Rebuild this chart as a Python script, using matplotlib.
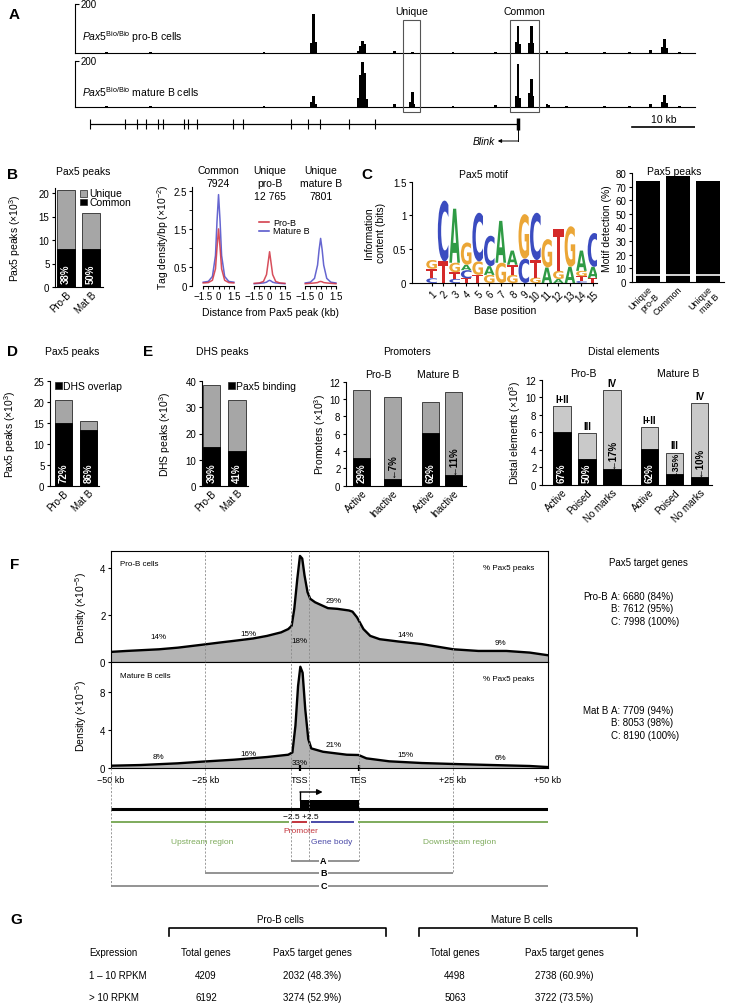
import matplotlib
matplotlib.use('Agg')
import matplotlib.pyplot as plt
from matplotlib import font_manager as fm
from matplotlib.font_manager import FontProperties
from matplotlib.textpath import TextPath
from matplotlib.patches import PathPatch, Rectangle
from matplotlib.transforms import Affine2D
from matplotlib.lines import Line2D
import numpy as np

W, H = 730, 1004

_names = {f.name for f in fm.fontManager.ttflist}
SANS = 'Liberation Sans' if 'Liberation Sans' in _names else 'DejaVu Sans'
NARROW = 'Liberation Sans Narrow' if 'Liberation Sans Narrow' in _names else SANS

plt.rcParams['font.family'] = SANS
plt.rcParams['mathtext.fontset'] = 'custom'
plt.rcParams['mathtext.rm'] = SANS
plt.rcParams['mathtext.it'] = SANS + ':italic'
plt.rcParams['mathtext.bf'] = SANS + ':bold'
plt.rcParams['axes.linewidth'] = 0.8
plt.rcParams['xtick.major.width'] = 0.8
plt.rcParams['ytick.major.width'] = 0.8

GRAY = '#a6a6a6'
LIGHT = '#c9c9c9'
RED = '#d0303f'
BLUE = '#4b4bc8'
GREEN = '#7eab5c'
PROM_RED = '#c2343c'
BODY_BLUE = '#4a4aa8'

# ---------------- data ----------------
# A: Pax5 ChIP-seq tags along the Blink locus (kb from window start)
track_kb = 98.4
proB_kb = [5.0, 12.0, 22.0, 30.0, 37.6, 37.9, 38.2, 45.0, 45.3, 45.6, 45.9, 50.7, 53.5, 60.0,
           66.7, 70.0, 70.3, 70.6, 72.1, 72.4, 72.7, 74.9, 78.0, 84.0, 88.0, 91.3, 93.2, 93.6,
           93.9, 96.0]
proB_tags = [3, 3, 2, 3, 40, 160, 45, 8, 30, 49, 35, 10, 5, 3,
             3, 45, 110, 35, 40, 110, 40, 8, 4, 5, 4, 12, 25, 57,
             20, 4]
matB_kb = [5.0, 12.0, 22.0, 30.0, 37.6, 37.9, 38.2, 45.0, 45.3, 45.6, 45.9, 46.2, 50.7, 53.2,
           53.5, 53.8, 60.0, 66.7, 70.0, 70.3, 70.6, 72.1, 72.4, 72.7, 74.9, 75.2, 78.0, 84.0,
           88.0, 91.3, 93.2, 93.6, 93.9, 96.0]
matB_tags = [3, 3, 2, 3, 20, 48, 15, 40, 140, 195, 150, 35, 15, 20,
             65, 15, 3, 8, 50, 187, 40, 60, 122, 50, 15, 8, 4, 5,
             4, 12, 20, 52, 18, 4]
blink_exons_kb = [2.4, 7.9, 9.8, 11.3, 13.2, 14.0, 17.3, 17.9, 19.4, 25.1, 26.6, 34.3, 37.0,
                  38.9, 43.5, 47.6, 70.3]
unique_box_kb = (52.1, 54.8)
common_box_kb = (69.0, 73.7)

# B
b_groups = ['Pro-B', 'Mat B']
b_total = [20.7, 15.7]
b_common = [8.0, 8.0]
b_pct = ['38%', '50%']

dens_kb = [-1.5, -1.0, -0.6, -0.3, -0.15, 0.0, 0.15, 0.3, 0.6, 1.0, 1.5]
dens_titles = ['Common\n7924', 'Unique\npro-B\n12 765', 'Unique\nmature B\n7801']
dens_proB = [[0.08, 0.09, 0.15, 0.45, 1.0, 1.5, 1.0, 0.45, 0.15, 0.09, 0.08],
             [0.07, 0.08, 0.12, 0.3, 0.6, 0.9, 0.6, 0.3, 0.12, 0.08, 0.07],
             [0.06, 0.07, 0.08, 0.09, 0.11, 0.12, 0.11, 0.09, 0.08, 0.07, 0.06]]
dens_matB = [[0.1, 0.12, 0.25, 0.8, 1.7, 2.4, 1.7, 0.8, 0.25, 0.12, 0.1],
             [0.06, 0.07, 0.08, 0.1, 0.13, 0.15, 0.13, 0.1, 0.08, 0.07, 0.06],
             [0.08, 0.1, 0.2, 0.55, 0.95, 1.25, 0.95, 0.55, 0.2, 0.1, 0.08]]

# C: Pax5 motif (letters bottom -> top, information content in bits)
motif_letters = ['CTG', 'TC', 'CTGA', 'TCAG', 'TGC', 'GAC', 'GA', 'GTA', 'CG', 'GTC',
                 'AG', 'AGT', 'AG', 'CTGA', 'TAC']
motif_bits = [[0.07, 0.14, 0.13], [0.32, 0.9], [0.06, 0.1, 0.14, 0.8], [0.07, 0.12, 0.08, 0.33],
              [0.12, 0.2, 0.72], [0.12, 0.13, 0.45], [0.3, 0.62], [0.12, 0.15, 0.21],
              [0.36, 0.66], [0.08, 0.26, 0.7], [0.23, 0.42], [0.06, 0.12, 0.62],
              [0.24, 0.6], [0.03, 0.07, 0.08, 0.3], [0.07, 0.17, 0.5]]
logo_colors = {'A': '#2f9b45', 'C': '#3b4cc0', 'G': '#eba636', 'T': '#d42a2a'}
motif_cats = ['Unique\npro-B', 'Common', 'Unique\nmat B']
motif_detect = [74, 78, 74]
motif_background = [5, 5, 5]

# D
d_groups = ['Pro-B', 'Mat B']
d_total = [20.6, 15.5]
d_dhs = [14.9, 13.3]
d_pct = ['72%', '86%']

# E
e_total = [38.6, 32.8]
e_pax5 = [15.0, 13.4]
e_pct = ['39%', '41%']

prom_labels = ['Active', 'Inactive', 'Active', 'Inactive']
prom_total = [11.1, 10.2, 9.7, 10.8]
prom_pax5 = [3.2, 0.75, 6.05, 1.2]
prom_pct = ['29%', '7%', '62%', '11%']

dist_labels = ['Active', 'Poised', 'No marks', 'Active', 'Poised', 'No marks']
dist_class = ['I+II', 'III', 'IV', 'I+II', 'III', 'IV']
dist_total = [9.0, 5.9, 10.8, 6.6, 3.7, 9.3]
dist_pax5 = [6.0, 3.0, 1.85, 4.1, 1.3, 0.93]
dist_pct = ['67%', '50%', '17%', '62%', '35%', '10%']

# F: metagene density (x: kb upstream/downstream, gene body scaled to 15.5 units)
G = 15.5
meta_proB_u = [-50.0, -45.9, -42.2, -37.3, -32.3, -26.1, -21.1, -17.4, -12.4, -8.7, -5.0, -3.1,
               -2.2, -1.5, -0.7, 0.0, 0.6, 1.2, 2.0, 2.7, 4.0, 7.4, 9.9, 13.0, 13.9, 15.1, 16.8,
               18.6, 21.1, 26.1, 32.3, 40.6, 47.2, 54.6, 60.8, 65.5]
meta_proB_d = [0.43, 0.47, 0.50, 0.54, 0.61, 0.73, 0.83, 0.90, 1.00, 1.11, 1.26, 1.40,
               1.54, 2.26, 3.54, 4.51, 4.40, 3.69, 2.97, 2.69, 2.54, 2.29, 2.26, 2.19, 2.14, 1.90,
               1.40, 1.11, 0.97, 0.87, 0.76, 0.54, 0.47, 0.47, 0.40, 0.29]
meta_matB_u = [-50.0, -42.2, -32.3, -26.1, -17.4, -8.7, -3.1, -2.0, -1.2, -0.5, 0.1, 0.7, 1.4,
               2.2, 3.0, 6.1, 12.4, 15.5, 17.6, 23.6, 32.3, 40.6, 50.9, 60.8, 65.5]
meta_matB_d = [0.24, 0.31, 0.49, 0.66, 0.87, 1.15, 1.39, 1.63, 4.42, 8.59, 10.6, 9.98, 6.16,
               3.03, 2.05, 1.70, 1.39, 1.36, 1.01, 0.70, 0.52, 0.42, 0.31, 0.21, 0.10]
region_bounds = [-50, -25, -2.5, 2.5, G, G + 25, G + 50]
proB_region_pct = ['14%', '15%', '18%', '29%', '14%', '9%']
matB_region_pct = ['8%', '16%', '33%', '21%', '15%', '6%']
proB_targets = ['A: 6680 (84%)', 'B: 7612 (95%)', 'C: 7998 (100%)']
matB_targets = ['A: 7709 (94%)', 'B: 8053 (98%)', 'C: 8190 (100%)']

# G
g_expr = ['1 \u2013 10 RPKM', '> 10 RPKM']
g_proB_total = [4209, 6192]
g_proB_target = [2032, 3274]
g_matB_total = [4498, 5063]
g_matB_target = [2738, 3722]

# ---------------- helpers ----------------
fig = plt.figure(figsize=(W / 100, H / 100), dpi=100)


def axes_px(x0, y0, x1, y1):
    return fig.add_axes([x0 / W, 1 - y1 / H, (x1 - x0) / W, (y1 - y0) / H])


def ftext(x, y, s, **kw):
    kw.setdefault('ha', 'center')
    kw.setdefault('va', 'center')
    return fig.text(x / W, 1 - y / H, s, **kw)


def fline(xs, ys, **kw):
    fig.add_artist(Line2D([x / W for x in xs], [1 - y / H for y in ys], **kw))


def fsquare(x, y, size, color):
    fig.add_artist(Rectangle((x / W, 1 - (y + size) / H), size / W, size / H,
                             transform=fig.transFigure, facecolor=color,
                             edgecolor='#222222', lw=0.5))


def ylabel_px(ax, text, x_px, fs=7.5, **kw):
    ax.set_ylabel(text, fontsize=fs, va='center', **kw)
    pos = ax.get_position()
    ax.yaxis.set_label_coords((x_px / W - pos.x0) / pos.width, 0.5)


def bar_axes(x0, y0, x1, y1, ymax, yticks, xlim):
    ax = axes_px(x0, y0, x1, y1)
    ax.set_ylim(0, ymax)
    ax.set_xlim(*xlim)
    ax.set_yticks(yticks)
    ax.spines[['top', 'right']].set_visible(False)
    ax.tick_params(axis='y', length=2.5, pad=1.5, labelsize=7)
    ax.tick_params(axis='x', length=0, pad=1.5, labelsize=7)
    ax.patch.set_alpha(0)
    return ax


def rot_labels(ax, pos, labels, fs=7):
    ax.set_xticks(pos)
    ax.set_xticklabels(labels, rotation=45, ha='right', rotation_mode='anchor', fontsize=fs)


def stacked(ax, pos, total, part, width, top_color):
    ax.bar(pos, total, width, color=top_color, edgecolor='#2a2a2a', lw=0.6)
    ax.bar(pos, part, width, color='k', edgecolor='k', lw=0.6)


def inner_pct(ax, p, y, s, color='white', fs=7):
    ax.text(p, y, s, rotation=90, color=color, fontweight='bold', ha='center',
            va='bottom', fontsize=fs)


def panel(x, y, s):
    ftext(x, y, s, fontsize=11, fontweight='bold')


# ---------------- A ----------------
panel(14, 15, 'A')
for y0, y1, kb, tags, lab in [(5, 54, proB_kb, proB_tags, 'pro-B cells'),
                              (62, 108, matB_kb, matB_tags, 'mature B cells')]:
    ax = axes_px(75, y0, 695, y1)
    ax.bar(kb, tags, width=0.45, color='k', lw=0)
    ax.set_xlim(0, track_kb)
    ax.set_ylim(0, 200)
    ax.spines[['top', 'right']].set_visible(False)
    ax.set_xticks([])
    ax.set_yticks([200])
    ax.tick_params(axis='y', direction='in', length=3, labelleft=False)
    ax.patch.set_alpha(0)
    ax.text(0.009, 1.0, '200', transform=ax.transAxes, fontsize=7, va='center', ha='left')
    ax.text(0.012, 0.34, r'$\it{Pax5}^{\rm{Bio/Bio}}$ ' + lab, transform=ax.transAxes,
            fontsize=7.5, va='center', ha='left')

axA = axes_px(75, 0, 695, 150)
axA.set_xlim(0, track_kb)
axA.set_ylim(150, 0)
axA.axis('off')
for (a, b), lab in [(unique_box_kb, 'Unique'), (common_box_kb, 'Common')]:
    axA.add_patch(Rectangle((a, 21), b - a, 92, fill=False, ec='#555555', lw=0.8))
    axA.text((a + b) / 2, 12, lab, ha='center', va='center', fontsize=7.5)
axA.hlines(125, blink_exons_kb[0], blink_exons_kb[-1], color='k', lw=0.9)
axA.vlines(blink_exons_kb[:-1], 120, 130, color='k', lw=0.8)
axA.vlines(blink_exons_kb[-1], 119, 131, color='k', lw=2.5)
tss = blink_exons_kb[-1]
axA.plot([tss, tss], [131, 142], color='k', lw=0.7)
axA.annotate('', xy=(tss - 3.2, 142), xytext=(tss, 142),
             arrowprops=dict(arrowstyle='-|>', color='k', lw=0.7, mutation_scale=5,
                             shrinkA=0, shrinkB=0))
axA.text(tss - 3.6, 142, 'Blink', style='italic', ha='right', va='center', fontsize=7.5)
axA.plot([track_kb - 10, track_kb], [128, 128], color='k', lw=1.2)
axA.text(track_kb - 5, 120, '10 kb', ha='center', va='center', fontsize=7.5)

# ---------------- B ----------------
panel(13, 175, 'B')
ftext(83, 172, 'Pax5 peaks', fontsize=7.5)
pos2 = np.arange(2)
axb = bar_axes(55, 189.3, 103, 288, 21, [0, 5, 10, 15, 20], (-0.44, 1.48))
stacked(axb, pos2, b_total, b_common, 0.72, GRAY)
for p, s in zip(pos2, b_pct):
    inner_pct(axb, p, 0.9, s)
rot_labels(axb, pos2, b_groups)
ylabel_px(axb, r'Pax5 peaks ($\times$10$^3$)', 15)
fsquare(80, 191, 6.5, GRAY)
ftext(89, 194.5, 'Unique', ha='left', fontsize=7.5)
fsquare(80, 199.5, 6.5, 'k')
ftext(89, 203, 'Common', ha='left', fontsize=7.5)

axd = axes_px(192, 188, 339, 287)
axd.set_xlim(-2.6, 11.8)
axd.set_ylim(0, 2.6)
offs = [0, 5, 10]
for k, off in enumerate(offs):
    xs = [off + v for v in dens_kb]
    axd.plot(xs, dens_matB[k], color=BLUE, lw=1.1, alpha=0.85)
    axd.plot(xs, dens_proB[k], color=RED, lw=1.1, alpha=0.85)
    axd.plot([off - 1.5, off + 1.5], [0, 0], color='k', lw=0.8, clip_on=False)
    axd.text(off, 3.18, dens_titles[k], ha='center', va='top', fontsize=7.5,
             linespacing=1.35, clip_on=False)
axd.spines[['top', 'right', 'bottom']].set_visible(False)
axd.patch.set_alpha(0)
axd.set_yticks([0, 0.5, 1.5, 2.5])
axd.set_yticklabels(['0', '0.5', '1.5', '2.5'])
axd.set_yticks([1.0, 2.0], minor=True)
axd.set_xticks([off + d for off in offs for d in (-1.5, 0, 1.5)])
axd.set_xticklabels(['\u22121.5', '0', '1.5'] * 3)
axd.set_xticks([off + d for off in offs for d in (-1, -0.5, 0.5, 1)], minor=True)
axd.tick_params(which='both', labelsize=7, length=2, pad=1.5)
ylabel_px(axd, r'Tag density/bp ($\times$10$^{-2}$)', 163)
ftext(273, 223, 'Pro-B', ha='left', fontsize=6.5)
ftext(273, 232, 'Mature B', ha='left', fontsize=6.5)
fline([259, 269], [223, 223], color=RED, lw=1.1)
fline([259, 269], [232, 232], color=BLUE, lw=1.1)
ftext(270, 313, 'Distance from Pax5 peak (kb)', fontsize=7.5)

# ---------------- C ----------------
panel(367, 175, 'C')
ftext(483, 175, 'Pax5 motif', fontsize=7.5)
fp_logo = FontProperties(family='DejaVu Sans', weight='bold')


def draw_letter(ax, ch, x, y0, h, width=0.92):
    tp = TextPath((0, 0), ch, size=1, prop=fp_logo)
    bb = tp.get_extents()
    tr = (Affine2D().translate(-bb.x0, -bb.y0)
          .scale(width / bb.width, h / bb.height)
          .translate(x - width / 2, y0))
    ax.add_patch(PathPatch(tr.transform_path(tp), color=logo_colors[ch], lw=0))


axl = axes_px(412, 182.7, 597, 284)
axl.set_xlim(-0.7, 15.35)
axl.set_ylim(0, 1.5)
for i, (letters, bits) in enumerate(zip(motif_letters, motif_bits)):
    y0 = 0.0
    for ch, h in zip(letters, bits):
        draw_letter(axl, ch, i + 1, y0, h)
        y0 += h
axl.spines[['top', 'right']].set_visible(False)
axl.set_yticks([0, 0.5, 1, 1.5])
axl.set_yticklabels(['0', '0.5', '1', '1.5'])
axl.set_xticks(range(1, 16))
axl.set_xticklabels([str(i) for i in range(1, 16)], rotation=45, ha='right',
                    rotation_mode='anchor')
axl.tick_params(labelsize=7, length=2.5, pad=1.5)
ylabel_px(axl, 'Information\ncontent (bits)', 375)
ftext(505, 311, 'Base position', fontsize=7.5)

ftext(674, 172, 'Pax5 peaks', fontsize=7.5)
pos3 = np.arange(3)
axm = bar_axes(632, 174, 724, 283, 80, list(range(0, 81, 10)), (-0.52, 2.55))
axm.bar(pos3, motif_detect, 0.8, color='k', lw=0)
axm.hlines(motif_background, pos3 - 0.4, pos3 + 0.4, color='#e6e6e6', lw=1.3)
rot_labels(axm, pos3, motif_cats, fs=6.5)
ylabel_px(axm, 'Motif detection (%)', 607)

# ---------------- D ----------------
panel(13, 352, 'D')
ftext(72, 352, 'Pax5 peaks', fontsize=7.5)
axD = bar_axes(50, 382.3, 98.5, 486.7, 25, [0, 5, 10, 15, 20, 25], (-0.54, 1.4))
stacked(axD, pos2, d_total, d_dhs, 0.68, GRAY)
for p, s in zip(pos2, d_pct):
    inner_pct(axD, p, 1.0, s)
rot_labels(axD, pos2, d_groups)
ylabel_px(axD, r'Pax5 peaks ($\times$10$^3$)', 10)
fsquare(55, 383, 6.5, 'k')
ftext(63, 386.5, 'DHS overlap', ha='left', fontsize=7.5)

# ---------------- E ----------------
panel(148, 352, 'E')
ftext(222, 352, 'DHS peaks', fontsize=7.5)
axE = bar_axes(201.7, 382.3, 248, 486.7, 40, [0, 10, 20, 30, 40], (-0.38, 1.43))
stacked(axE, pos2, e_total, e_pax5, 0.67, GRAY)
for p, s in zip(pos2, e_pct):
    inner_pct(axE, p, 1.6, s)
rot_labels(axE, pos2, d_groups)
ylabel_px(axE, r'DHS peaks ($\times$10$^3$)', 165)
fsquare(228, 383, 6.5, 'k')
ftext(236, 386.5, 'Pax5 binding', ha='left', fontsize=7.5)

ftext(407, 352, 'Promoters', fontsize=7.5)
ftext(378, 375, 'Pro-B', fontsize=7.5)
ftext(438, 375, 'Mature B', fontsize=7.5)
pos4 = np.array([0, 1.2, 2.7, 3.6])
axP = bar_axes(346, 382.7, 466, 486.7, 12, list(range(0, 13, 2)), (-0.62, 4.1))
stacked(axP, pos4, prom_total, prom_pax5, 0.67, GRAY)
for k, (p, s) in enumerate(zip(pos4, prom_pct)):
    if k % 2 == 0:
        inner_pct(axP, p, 0.45, s)
    else:
        inner_pct(axP, p, prom_pax5[k] + 0.2, '\u2190' + s, color='k')
rot_labels(axP, pos4, prom_labels)
ylabel_px(axP, r'Promoters ($\times$10$^3$)', 320)

ftext(624, 352, 'Distal elements', fontsize=7.5)
ftext(583, 374, 'Pro-B', fontsize=7.5)
ftext(678, 374, 'Mature B', fontsize=7.5)
pos6 = np.array([0, 1, 2, 3.5, 4.5, 5.5])
axT = bar_axes(542, 380.7, 712, 486, 12, list(range(0, 13, 2)), (-0.8, 6.0))
stacked(axT, pos6, dist_total, dist_pax5, 0.7, LIGHT)
for k, (p, s) in enumerate(zip(pos6, dist_pct)):
    if dist_class[k] == 'IV':
        inner_pct(axT, p, dist_pax5[k] + 0.05, '\u2190' + s, color='k')
    elif k == 4:
        inner_pct(axT, p, dist_pax5[k] - 0.35, '\u2190' + s, color='k', fs=6.3)
    else:
        inner_pct(axT, p, 0.35, s)
    axT.text(p, dist_total[k] + 0.25, dist_class[k], ha='center', va='bottom',
             fontsize=7, fontweight='bold')
rot_labels(axT, pos6, dist_labels)
ylabel_px(axT, r'Distal elements ($\times$10$^3$)', 515)

# ---------------- F ----------------
panel(15, 565, 'F')
mids = [(a + b) / 2 for a, b in zip(region_bounds[:-1], region_bounds[1:])]
f_specs = [
    (552, 663, meta_proB_u, meta_proB_d, 4.72, [0, 2, 4], 'Pro-B cells', 4.17,
     proB_region_pct, [1.1, 1.23, 0.9, 2.6, 1.19, 0.81]),
    (663, 769, meta_matB_u, meta_matB_d, 11.1, [0, 4, 8], 'Mature B cells', 9.66,
     matB_region_pct, [1.25, 1.56, 0.62, 2.49, 1.45, 1.14]),
]
f_axes = []
for y0, y1, u, d, ymax, yt, name, name_y, pcts, pct_y in f_specs:
    ax = axes_px(111, y0, 547.5, y1)
    ax.fill_between(u, d, color='#b4b4b4', lw=0)
    ax.plot(u, d, color='k', lw=1.7, solid_joinstyle='round')
    ax.set_xlim(-50, G + 50)
    ax.set_ylim(0, ymax)
    ax.set_yticks(yt)
    ax.set_xticks([])
    ax.tick_params(axis='y', length=2.5, pad=1.5, labelsize=7)
    ax.text(-47.5, name_y, name, ha='left', va='center', fontsize=5.8, family=NARROW)
    ax.text(62, name_y - (0.03 * ymax), '% Pax5 peaks', ha='right', va='center',
            fontsize=5.8, family=NARROW)
    for m, s, yy in zip(mids, pcts, pct_y):
        ax.text(m, yy, s, ha='center', va='center', fontsize=5.8, family=NARROW)
    ylabel_px(ax, r'Density ($\times$10$^{-5}$)', 81)
    f_axes.append(ax)

axF2 = f_axes[1]
axF2.set_xticks([0, G])
axF2.set_xticklabels(['TSS', 'TES'], family=NARROW)
axF2.set_xticks([-50, -25, G + 25, G + 50], minor=True)
axF2.set_xticklabels(['\u221250 kb', '\u221225 kb', '+25 kb', '+50 kb'], minor=True,
                     family=NARROW)
axF2.tick_params(axis='x', which='major', length=5, width=1.6, direction='inout',
                 labelsize=6.5, pad=2.5)
axF2.tick_params(axis='x', which='minor', length=0, labelsize=6.5, pad=5)

axO = axes_px(111, 552, 547.5, 895)
axO.set_xlim(-50, G + 50)
axO.set_ylim(895, 552)
axO.axis('off')
dash = dict(color='#8a8a8a', lw=0.6, ls=(0, (2.5, 2)))
axO.vlines([-25, G + 25], 552, 874, **dash)
axO.vlines([-2.5, 2.5, G], 552, 862, **dash)
axO.vlines([-50, G + 50], 769, 887, **dash)
axO.hlines(810, -50, G + 50, color='k', lw=2.2)
axO.add_patch(Rectangle((0, 801), G, 9, color='k', lw=0))
axO.plot([0, 0], [801, 793], color='k', lw=1.0)
axO.annotate('', xy=(6.0, 793), xytext=(0, 793),
             arrowprops=dict(arrowstyle='-|>', color='k', lw=1.0, mutation_scale=8,
                             shrinkA=0, shrinkB=0))
axO.text(0.3, 817.5, '\u22122.5 +2.5', ha='center', va='center', fontsize=6, family=NARROW)
axO.hlines(823, -50, -3.0, color=GREEN, lw=1.4)
axO.hlines(823, G - 0.2, G + 50, color=GREEN, lw=1.4)
axO.hlines(823, -2.1, 1.9, color=PROM_RED, lw=1.4)
axO.hlines(823, 2.8, 14.2, color=BODY_BLUE, lw=1.4)
axO.text(0.1, 832, 'Promoter', color=PROM_RED, ha='center', va='center', fontsize=6,
         family=NARROW)
axO.text(-25.9, 843, 'Upstream region', color=GREEN, ha='center', va='center', fontsize=6,
         family=NARROW)
axO.text(8.5, 843, 'Gene body', color=BODY_BLUE, ha='center', va='center', fontsize=6,
         family=NARROW)
axO.text(42.1, 843, 'Downstream region', color=GREEN, ha='center', va='center', fontsize=6,
         family=NARROW)
for (a, b), yy, lab in [((-2.5, G), 862, 'A'), ((-25, G + 25), 874, 'B'),
                        ((-50, G + 50), 887, 'C')]:
    axO.hlines(yy, a, b, color='#8a8a8a', lw=1.3)
    axO.text(6.2, yy, lab, ha='center', va='center', fontsize=6.5, fontweight='bold',
             bbox=dict(facecolor='white', edgecolor='none', pad=1.2))

ftext(648, 563, 'Pax5 target genes', fontsize=7, family=NARROW)
for label, lines, ytop in [('Pro-B', proB_targets, 597), ('Mat B', matB_targets, 711)]:
    ftext(608, ytop, label, ha='right', fontsize=7, family=NARROW)
    for k, s in enumerate(lines):
        ftext(611, ytop + 12.5 * k, s, ha='left', fontsize=7, family=NARROW)

# ---------------- G ----------------
panel(16, 920, 'G')
gfs = 7
ftext(280, 920, 'Pro-B cells', fontsize=gfs, family=NARROW)
ftext(522, 920, 'Mature B cells', fontsize=gfs, family=NARROW)
fline([168.5, 168.5, 386, 386], [937, 929, 929, 937], color='k', lw=1.2)
fline([419, 419, 637, 637], [937, 929, 929, 937], color='k', lw=1.2)
col_x = [206, 312.6, 455, 564]
ftext(89, 953, 'Expression', ha='left', fontsize=gfs, family=NARROW)
for cx, s in zip(col_x, ['Total genes', 'Pax5 target genes'] * 2):
    ftext(cx, 953, s, fontsize=gfs, family=NARROW)
for k, expr in enumerate(g_expr):
    yy = 976 + 22 * k
    ftext(89, yy, expr, ha='left', fontsize=gfs, family=NARROW)
    vals = [str(g_proB_total[k]),
            f'{g_proB_target[k]} ({100 * g_proB_target[k] / g_proB_total[k]:.1f}%)',
            str(g_matB_total[k]),
            f'{g_matB_target[k]} ({100 * g_matB_target[k] / g_matB_total[k]:.1f}%)']
    for cx, s in zip(col_x, vals):
        ftext(cx, yy, s, fontsize=gfs, family=NARROW)

fig.savefig('out.png', dpi=100)
